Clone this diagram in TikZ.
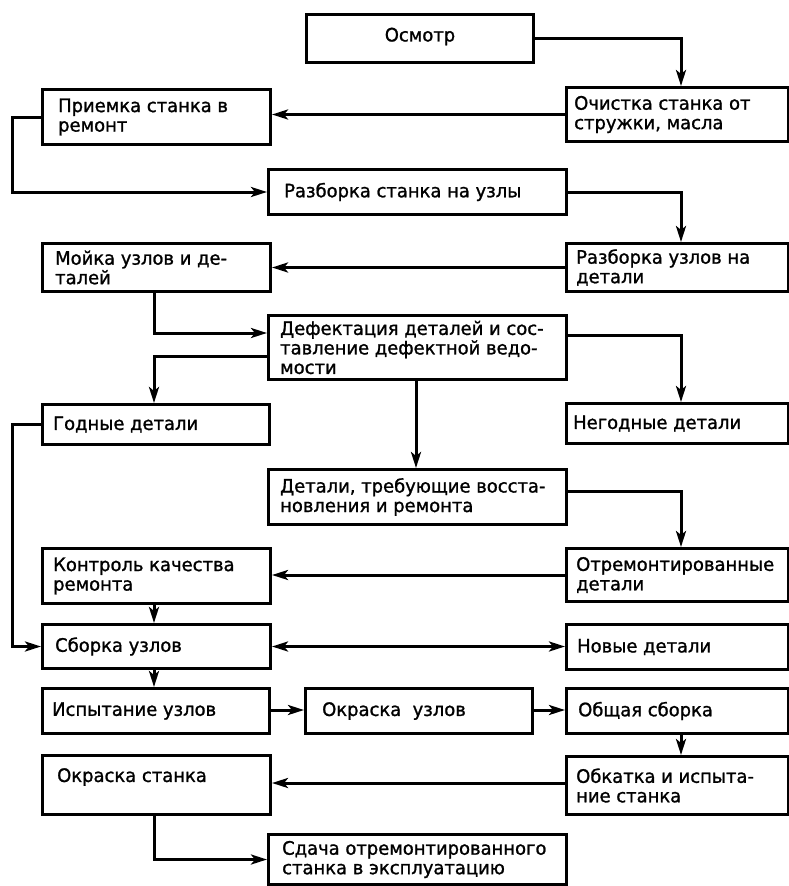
\documentclass[tikz,border=0pt]{standalone}
\usepackage{fontspec}
\setmainfont{DejaVu Sans}[FakeStretch=0.97,FakeBold=1.2]
\usetikzlibrary{arrows.meta}
\begin{document}
\begin{tikzpicture}[x=1pt,y=-1pt,
  box/.style={draw, line width=3pt, inner sep=0pt, anchor=north west},
  txt/.style={anchor=west, inner sep=0pt, align=left,
    font=\fontsize{18.5}{19.5}\selectfont},
  arr/.style={line width=3pt, line join=miter, -{Stealth[length=16pt,width=10pt,inset=4pt]}},
  darr/.style={line width=3pt, {Stealth[length=16pt,width=10pt,inset=4pt]}-{Stealth[length=16pt,width=10pt,inset=4pt]}},
]
\useasboundingbox (0,0) rectangle (789,886);
% column guide coordinates
\coordinate (colL) at (154,0);
\coordinate (colM) at (416,0);
\coordinate (colR) at (681,0);
\coordinate (edgeL) at (12,0);
\coordinate (y333) at (0,333);
\coordinate (y335) at (0,335);
\coordinate (y356) at (0,356);
\coordinate (y491) at (0,491);
\coordinate (y783) at (0,783);
\coordinate (y710) at (0,710);

% boxes
\node[box, minimum width=227pt, minimum height=48pt] (osm) at (305,13) {};
\node[box, minimum width=222pt, minimum height=54pt] (och) at (565,86) {};
\node[box, minimum width=228pt, minimum height=55pt] (pri) at (41,88) {};
\node[box, minimum width=298pt, minimum height=45pt] (raz1) at (267,168) {};
\node[box, minimum width=228pt, minimum height=48pt] (moy) at (41,242) {};
\node[box, minimum width=222pt, minimum height=48pt] (raz2) at (565,242) {};
\node[box, minimum width=298pt, minimum height=64pt] (def) at (267,314) {};
\node[box, minimum width=227pt, minimum height=40pt] (god) at (41,403) {};
\node[box, minimum width=222pt, minimum height=40pt] (neg) at (565,402) {};
\node[box, minimum width=298pt, minimum height=55pt] (tre) at (267,468) {};
\node[box, minimum width=228pt, minimum height=55pt] (kon) at (41,547) {};
\node[box, minimum width=222pt, minimum height=53pt] (otr) at (565,547) {};
\node[box, minimum width=228pt, minimum height=44pt] (sbo) at (41,623) {};
\node[box, minimum width=222pt, minimum height=45pt] (nov) at (565,623) {};
\node[box, minimum width=227pt, minimum height=45pt] (isp) at (41,687) {};
\node[box, minimum width=227pt, minimum height=45pt] (oku) at (304,687) {};
\node[box, minimum width=222pt, minimum height=45pt] (obs) at (565,687) {};
\node[box, minimum width=228pt, minimum height=59pt] (oks) at (41,754) {};
\node[box, minimum width=222pt, minimum height=58pt] (obk) at (565,755) {};
\node[box, minimum width=298pt, minimum height=50pt] (sda) at (267,833) {};

% texts
\node[txt, anchor=center] (osm-t) at ([yshift=2pt]osm.center) {Осмотр};
\node[txt] (och-t) at ([xshift=9pt]och.west) {Очистка станка от\\стружки, масла};
\node[txt] (pri-t) at ([xshift=17pt]pri.west) {Приемка станка в\\ремонт};
\node[txt] (raz1-t) at ([xshift=17pt]raz1.west) {Разборка станка на узлы};
\node[txt] (moy-t) at ([xshift=14pt]moy.west) {Мойка узлов и де-\\талей};
\node[txt] (raz2-t) at ([xshift=11pt]raz2.west) {Разборка узлов на\\детали};
\node[txt] (def-t) at ([xshift=13pt]def.west) {Дефектация деталей и сос-\\тавление дефектной ведо-\\мости};
\node[txt] (god-t) at ([xshift=12pt]god.west) {Годные детали};
\node[txt] (neg-t) at ([xshift=8pt]neg.west) {Негодные детали};
\node[txt] (tre-t) at ([xshift=13pt]tre.west) {Детали, требующие восста-\\новления и ремонта};
\node[txt] (kon-t) at ([xshift=12pt]kon.west) {Контроль качества\\ремонта};
\node[txt] (otr-t) at ([xshift=11pt]otr.west) {Отремонтированные\\детали};
\node[txt] (sbo-t) at ([xshift=14pt]sbo.west) {Сборка узлов};
\node[txt] (nov-t) at ([xshift=12pt]nov.west) {Новые детали};
\node[txt] (isp-t) at ([xshift=11pt]isp.west) {Испытание узлов};
\node[txt] (oku-t) at ([xshift=18pt]oku.west) {Окраска~~узлов};
\node[txt] (obs-t) at ([xshift=13pt]obs.west) {Общая сборка};
\node[txt] (oks-t) at ([xshift=16pt,yshift=8pt]oks.west) {Окраска станка};
\node[txt] (obk-t) at ([xshift=11pt]obk.west) {Обкатка и испыта-\\ние станка};
\node[txt] (sda-t) at ([xshift=15pt]sda.west) {Сдача отремонтированного\\станка в эксплуатацию};

% connectors
\draw[arr] (osm.east) -| (och.north -| colR);
\draw[arr] (och.west) -- (och.west -| pri.east);
\draw[arr] (pri.west) -- (pri.west -| edgeL) |- (raz1.west);
\draw[arr] (raz1.east) -| (raz2.north -| colR);
\draw[arr] (raz2.west) -- (raz2.west -| moy.east);
\draw[arr] (moy.south -| colL) |- (def.west |- y333);
\draw[arr] (def.west |- y356) -| (god.north -| colL);
\draw[arr] (def.east |- y335) -| (neg.north -| colR);
\draw[arr] (def.south -| colM) -- (tre.north -| colM);
\draw[arr] (god.west) -- (god.west -| edgeL) |- (sbo.west);
\draw[arr] (tre.east |- y491) -| (otr.north -| colR);
\draw[arr] (otr.west) -- (otr.west -| kon.east);
\draw[arr] (kon.south -| colL) -- (sbo.north -| colL);
\draw[darr] (sbo.east) -- (sbo.east -| nov.west);
\draw[arr] (sbo.south -| colL) -- (isp.north -| colL);
\draw[arr] (isp.east |- y710) -- (oku.west |- y710);
\draw[arr] (oku.east |- y710) -- (obs.west |- y710);
\draw[arr] (obs.south -| colR) -- (obk.north -| colR);
\draw[arr] (obk.west |- y783) -- (oks.east |- y783);
\draw[arr] (oks.south -| colL) |- (sda.west);
\end{tikzpicture}
\end{document}
